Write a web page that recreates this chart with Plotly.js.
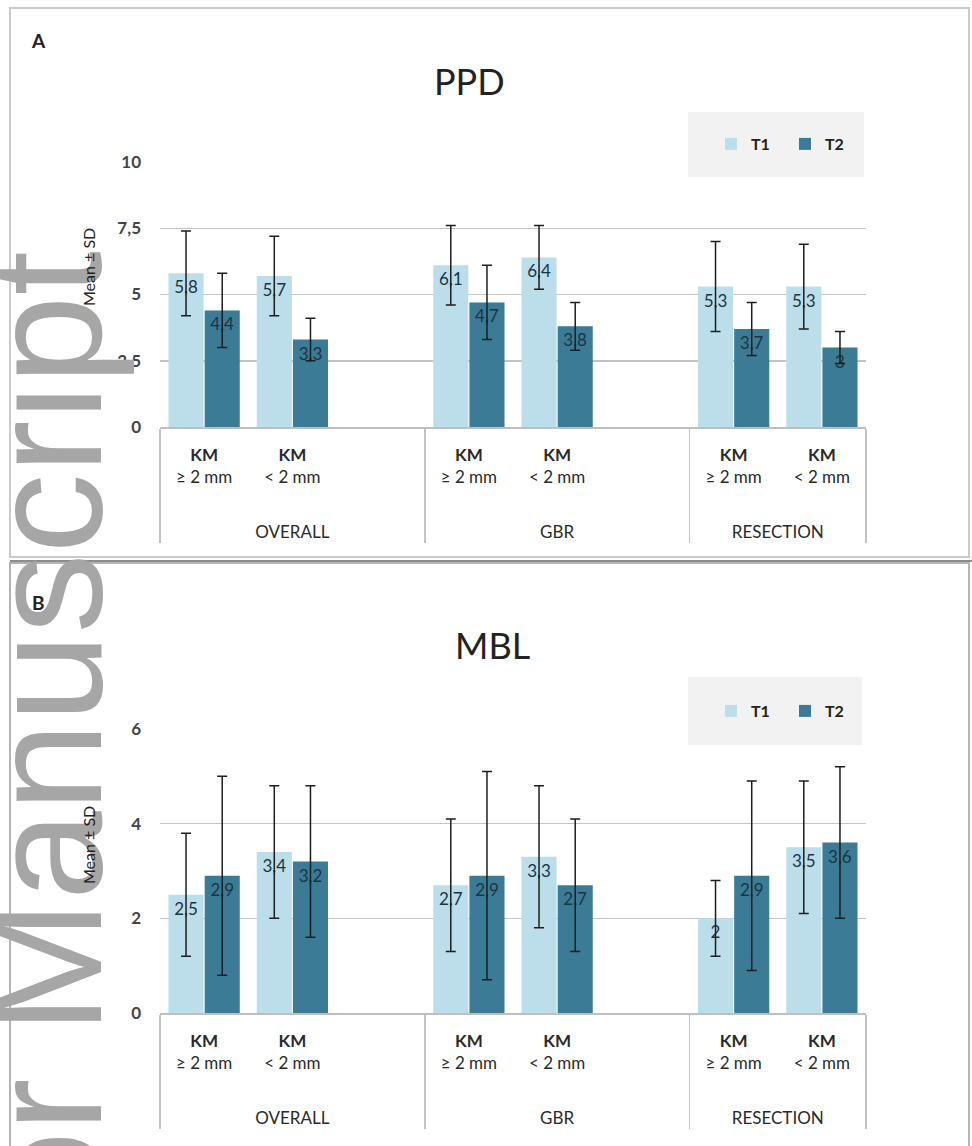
<!DOCTYPE html>
<html><head><meta charset="utf-8">
<script src="https://cdn.plot.ly/plotly-3.0.1.min.js"></script>
<style>html,body{margin:0;padding:0;background:#fff}#chart{width:972px;height:1146px}</style>
</head><body><div id="chart"></div>
<script>
// ---- data ----
const groups = ["OVERALL","OVERALL","OVERALL","GBR","GBR","GBR","RESECTION","RESECTION"];
const subcats = ["<b>KM</b><br>≥ 2 mm","<b>KM</b><br>&lt; 2 mm"," ","<b>KM</b><br>≥ 2 mm","<b>KM</b><br>&lt; 2 mm"," ","<b>KM</b><br>≥ 2 mm","<b>KM</b><br>&lt; 2 mm"];
const seriesNames = ["T1","T2"];
const ppdT1   = [5.8, 5.7, null, 6.1, 6.4, null, 5.3, 5.3];
const ppdT1sd = [1.6, 1.5, null, 1.5, 1.2, null, 1.7, 1.6];
const ppdT2   = [4.4, 3.3, null, 4.7, 3.8, null, 3.7, 3];
const ppdT2sd = [1.4, 0.8, null, 1.4, 0.9, null, 1.0, 0.6];
const mblT1   = [2.5, 3.4, null, 2.7, 3.3, null, 2, 3.5];
const mblT1sd = [1.3, 1.4, null, 1.4, 1.5, null, 0.8, 1.4];
const mblT2   = [2.9, 3.2, null, 2.9, 2.7, null, 2.9, 3.6];
const mblT2sd = [2.1, 1.6, null, 2.2, 1.4, null, 2.0, 1.6];
const ppdTicks = [0, 2.5, 5, 7.5, 10];
const mblTicks = [0, 2, 4, 6];

// ---- style ----
const W = 972, H = 1146;
const px = x => x / W, py = y => 1 - y / H;
const colT1 = '#bbdeea', colT2 = '#3c7b95';
const FONT = 'Lato, "Open Sans", sans-serif';
const lbl = v => v == null ? '' : String(v).replace('.', ',');
// group labels sit two line-heights below the sub-category labels
const groupLabels = groups.map(g => '<br><br>' + g);

function barTrace(name, vals, sd, color, xa, ya, leg) {
  return {
    type: 'bar', name: name, x: [groupLabels, subcats], y: vals,
    xaxis: xa, yaxis: ya, legend: leg,
    marker: {color: color},
    text: vals.map(lbl), textposition: 'inside', insidetextanchor: 'end',
    textfont: {family: FONT, size: 17, color: '#1b3442'},
    constraintext: 'none',
    error_y: {type: 'data', array: sd, visible: true, color: '#1e1e1e', thickness: 1.5, width: 5},
    hoverinfo: 'skip'
  };
}

const data = [
  barTrace(seriesNames[0], ppdT1, ppdT1sd, colT1, 'x', 'y', 'legend'),
  barTrace(seriesNames[1], ppdT2, ppdT2sd, colT2, 'x', 'y', 'legend'),
  barTrace(seriesNames[0], mblT1, mblT1sd, colT1, 'x2', 'y2', 'legend2'),
  barTrace(seriesNames[1], mblT2, mblT2sd, colT2, 'x2', 'y2', 'legend2')
];

function xAxis(anchor) {
  return {
    type: 'multicategory', anchor: anchor, domain: [px(160), px(866)],
    showdividers: true, dividercolor: '#c2c2c2', dividerwidth: 1.5,
    showline: true, linecolor: '#bfbfbf', linewidth: 1.5,
    ticks: '', showgrid: false, ticklabelstandoff: 12,
    tickfont: {family: FONT, size: 17, color: '#2a2a2a'}, fixedrange: true
  };
}
function yAxis(dom, range, ticks) {
  return {
    domain: dom, range: range, tickvals: ticks, showgrid: true,
    gridcolor: '#c4c4c4', gridwidth: 1.5, zeroline: false, showline: false,
    ticks: '', ticklabelstandoff: 18,
    tickfont: {family: FONT, size: 17, color: '#444', weight: 'bold'}, fixedrange: true
  };
}
function legendAt(yc) {
  return {
    x: px(711), y: py(yc), xanchor: 'left', yanchor: 'middle', orientation: 'h',
    bgcolor: 'rgba(0,0,0,0)', borderwidth: 0,
    font: {family: FONT, size: 16, color: '#222', weight: 'bold'},
    entrywidth: 29, traceorder: 'normal'
  };
}
function ann(x, y, text, size, opts) {
  return Object.assign({
    xref: 'paper', yref: 'paper', x: px(x), y: py(y), text: text, showarrow: false,
    xanchor: 'center', yanchor: 'middle',
    font: {family: FONT, size: size, color: '#222'}
  }, opts || {});
}
function rect(x0, y0, x1, y1, opts) {
  return Object.assign({type: 'rect', xref: 'paper', yref: 'paper',
    x0: px(x0), x1: px(x1), y0: py(y0), y1: py(y1)}, opts);
}

const layout = {
  width: W, height: H, margin: {l: 0, r: 0, t: 0, b: 0},
  paper_bgcolor: '#ffffff', plot_bgcolor: 'rgba(0,0,0,0)',
  separators: ', ', barmode: 'group', bargap: 0.18, bargroupgap: 0.03,
  font: {family: FONT, color: '#333'},
  xaxis: xAxis('y'), yaxis: yAxis([py(427), py(162)], [0, 10], ppdTicks),
  xaxis2: xAxis('y2'), yaxis2: yAxis([py(1013), py(729)], [0, 6], mblTicks),
  legend: legendAt(144), legend2: legendAt(711),
  shapes: [
    rect(10, 8, 969, 557, {line: {color: '#cacaca', width: 2}, layer: 'below'}),
    rect(10, 563, 969, 1152, {line: {color: '#b4b4b4', width: 2}, layer: 'below'}),
    {type: 'line', xref: 'paper', yref: 'paper', x0: px(10), x1: px(972), y0: py(561), y1: py(561),
     line: {color: '#8c8c8c', width: 2}},
    rect(688, 112, 864, 177, {fillcolor: '#f2f2f2', line: {width: 0}, layer: 'above'}),
    rect(688, 677, 862, 745, {fillcolor: '#f2f2f2', line: {width: 0}, layer: 'above'})
  ],
  annotations: [
    ann(44.5, 901, 'Author Manuscript', 160, {textangle: -90,
      font: {family: '"Liberation Sans", Arial, sans-serif', size: 160, color: '#a6a6a6'}}),
    ann(469, 81, 'PPD', 36),
    ann(492, 645, 'MBL', 36),
    ann(38, 40, '<b>A</b>', 19),
    ann(38, 602, '<b>B</b>', 19),
    ann(88, 267, 'Mean ± SD', 16, {textangle: -90}),
    ann(88, 845, 'Mean ± SD', 16, {textangle: -90})
  ]
};

Plotly.newPlot('chart', data, layout, {displayModeBar: false, staticPlot: true});
</script>
</body></html>
